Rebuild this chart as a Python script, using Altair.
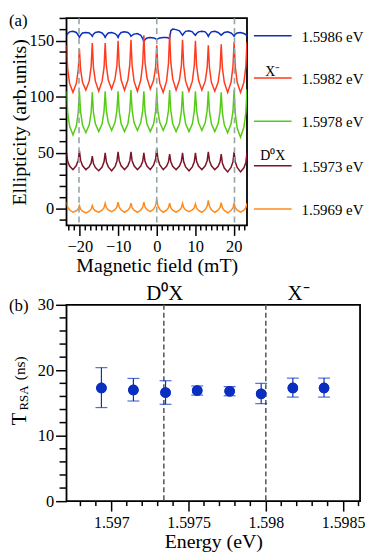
import altair as alt
import pandas as pd

FONT = "Liberation Serif"

# ---------------- panel (a): RSA traces ----------------
FIELD_MT = [
    -23.45, -23.15, -22.65, -21.775, -20.9, -20.4,
    -20.1, -19.8, -19.3, -18.425, -17.55, -17.05,
    -16.75, -16.45, -15.95, -15.075, -14.2, -13.7,
    -13.4, -13.1, -12.6, -11.725, -10.85, -10.35,
    -10.05, -9.75, -9.25, -8.375, -7.5, -7.0,
    -6.7, -6.4, -5.9, -5.025, -4.15, -3.65,
    -3.35, -3.05, -2.55, -1.675, -0.8, -0.3,
    0.0, 0.3, 0.8, 1.675, 2.55, 3.05,
    3.35, 3.65, 4.15, 5.025, 5.9, 6.4,
    6.7, 7.0, 7.5, 8.375, 9.25, 9.75,
    10.05, 10.35, 10.85, 11.725, 12.6, 13.1,
    13.4, 13.7, 14.2, 15.075, 15.95, 16.45,
    16.75, 17.05, 17.55, 18.425, 19.3, 19.8,
    20.1, 20.4, 20.9, 21.775, 22.65, 23.15,
    23.45,
]

Y_15986 = [
    155, 156.5, 158, 158.5, 157.5, 155,
    153, 155, 157, 157.5, 157, 155.5,
    154, 156, 157.5, 158, 157, 155,
    153, 155, 157, 157.5, 156.5, 155,
    153, 155.5, 157.5, 158, 157.5, 156,
    154, 155, 156, 156.5, 155, 152,
    149, 151, 152.5, 153, 152.5, 152,
    151, 152, 152.5, 153, 153, 152.5,
    152, 159, 160.5, 160, 159, 156.5,
    155, 156.5, 158.5, 159, 158, 156,
    155, 156.5, 158, 158.5, 158, 156,
    154, 156, 158, 158.5, 157.5, 156,
    155, 156, 157.5, 158, 157, 155.5,
    154, 156, 157, 157.5, 156.5, 155.5,
    154,
]

Y_15982 = [
    146, 125, 112, 104, 112, 124,
    143, 125, 113, 106, 114, 127,
    148, 126, 114, 105, 114, 126,
    148, 128, 115, 107, 116, 128,
    150, 128, 115, 106, 115, 129,
    151, 128, 114, 105, 115, 130,
    155, 131, 117, 107, 115, 126,
    146, 125, 112, 104, 114, 130,
    156, 131, 116, 106, 115, 128,
    151, 128, 114, 105, 114, 128,
    150, 128, 115, 106, 114, 126,
    146, 126, 113, 105, 113, 126,
    147, 126, 113, 104, 113, 127,
    149, 127, 113, 104, 113, 127,
    149,
]

Y_15978 = [
    105, 86, 74, 66, 74, 86,
    105, 87, 75, 68, 75, 86,
    104, 86, 76, 69, 76, 87,
    105, 88, 77, 70, 77, 88,
    105, 87, 76, 69, 76, 88,
    106, 88, 77, 70, 77, 88,
    105, 87, 76, 69, 76, 87,
    104, 87, 77, 70, 77, 88,
    106, 88, 76, 69, 76, 87,
    105, 87, 76, 69, 76, 87,
    105, 88, 77, 70, 77, 88,
    105, 87, 76, 69, 76, 87,
    104, 86, 75, 68, 76, 87,
    106, 85, 72, 64, 73, 86,
    107,
]

Y_15973 = [
    50, 42.5, 38.3, 35, 38.7, 43.5,
    52, 43.5, 38.7, 35, 37.6, 41,
    47, 40.5, 36.9, 34, 37.3, 42,
    50, 42, 37.5, 34, 37.7, 42.5,
    51, 43, 38.5, 35, 38.5, 43,
    51, 43, 38.5, 35, 38.3, 42.5,
    50, 42.5, 38.3, 35, 39.2, 44.5,
    54, 44.5, 39.2, 35, 38.1, 42,
    49, 42, 38.1, 35, 38.3, 42.5,
    50, 42, 37.5, 34, 37.5, 42,
    50, 42.5, 38.3, 35, 38.5, 43,
    51, 43, 38.5, 35, 38.1, 42,
    49, 41, 36.5, 33, 37, 42,
    51, 42, 37, 33, 36.7, 41.5,
    50,
]

Y_15969 = [
    6, 1.5, -1, -3, -1.7, 0,
    3, -0.3, -2.1, -3.5, -2.1, -0.3,
    3, 0, -1.7, -3, -1.2, 1,
    5, 1.3, -0.9, -2.5, -0.7, 1.8,
    6, 1.5, -1, -3, -1.2, 1,
    5, 1, -1.2, -3, -1, 1.5,
    6, 1.8, -0.7, -2.5, -0.1, 3,
    8.5, 2.8, -0.5, -3, -1.2, 1,
    5, 1, -1.2, -3, -1.2, 1,
    5, 1.3, -0.9, -2.5, -1, 1,
    4.5, 0.8, -1.4, -3, -0.6, 2.3,
    7.5, 2.3, -0.7, -3, -1.2, 1.3,
    5.5, 1, -1.4, -3.5, -1.5, 0.8,
    5, 1, -1.2, -3, -1.2, 1,
    5,
]

SERIES = ["1.5986 eV", "1.5982 eV", "1.5978 eV", "1.5973 eV", "1.5969 eV"]
COLORS = ["#0c2fb8", "#ff3b1e", "#55cc14", "#7b1426", "#ff8a1c"]
LABEL_LEVELS = [154.5, 116.8, 78.3, 38.4, 0.0]
PEAK_LABELS = ["X⁻", "D⁰X"]
PEAK_LABEL_LEVELS = [122.5, 47.5]
DASH_FIELDS = [-20.2, 0.0, 20.2]
XA_MAJOR = [-20, -10, 0, 10, 20]
YA_MAJOR = [0, 50, 100, 150]

# ---------------- panel (b): T_RSA vs energy ----------------
ENERGY = [1.596936, 1.597143, 1.597351, 1.597556, 1.597766, 1.597970, 1.598175, 1.598377]
T_RSA = [17.3, 17.0, 16.6, 16.9, 16.8, 16.4, 17.3, 17.3]
T_LO = [14.3, 15.3, 14.8, 16.2, 16.1, 14.9, 15.9, 15.9]
T_HI = [20.4, 18.75, 18.4, 17.6, 17.5, 18.0, 18.8, 18.8]
DASH_ENERGY = [1.59734, 1.59800]
XB_MAJOR = [1.597, 1.5975, 1.598, 1.5985]
YB_MAJOR = [0, 10, 20, 30]

# ---------------- build tables ----------------
rows = []
for name, ys in zip(SERIES, [Y_15986, Y_15982, Y_15978, Y_15973, Y_15969]):
    for x, y in zip(FIELD_MT, ys):
        rows.append({"series": name, "field": x, "ell": y})
df_a = pd.DataFrame(rows)
df_lab = pd.DataFrame({"series": SERIES, "level": LABEL_LEVELS})
df_peak = pd.DataFrame({"t": PEAK_LABELS, "level": PEAK_LABEL_LEVELS})
df_dash_a = pd.DataFrame({"field": DASH_FIELDS})
df_b = pd.DataFrame({"energy": ENERGY, "t": T_RSA, "lo": T_LO, "hi": T_HI})
df_dash_b = pd.DataFrame({"energy": DASH_ENERGY})

# minor tick positions (axis decoration)
xa_minor = pd.DataFrame({"field": [round(-20 + i * 10 / 7, 4) for i in range(-2, 31) if i % 7]})
ya_minor = pd.DataFrame({"ell": [v for v in range(-10, 171, 10) if v % 50]})
xb_minor = pd.DataFrame({"energy": [round(1.5968 + i * 0.0001, 4) for i in range(0, 19) if (i + 3) % 5]})
yb_minor = pd.DataFrame({"t": [v for v in range(0, 31, 2) if v % 10]})

W_A, H_A = 182, 209
W_B, H_B = 296, 198

color = alt.Color("series:N", scale=alt.Scale(domain=SERIES, range=COLORS), legend=None)

axis_common = dict(domain=False, tickColor="black", tickWidth=1.5, labelColor="black",
                   labelFont=FONT, titleFont=FONT, titleFontWeight="normal",
                   titleColor="black", grid=False, labelOverlap=False, labelBound=False,
                   labelFlush=False)

sx_a = alt.Scale(domain=[-23.45, 23.45], nice=False, zero=False)
sy_a = alt.Scale(domain=[-14.8, 170.2], nice=False, zero=False)
ax_xa = alt.Axis(values=XA_MAJOR, format="d", tickSize=10, labelPadding=3, labelFontSize=16.5,
                 title="Magnetic field (mT)", titleFontSize=20, titlePadding=1, **axis_common)
ax_ya = alt.Axis(values=YA_MAJOR, format="d", tickSize=11, labelPadding=2, labelFontSize=16.5,
                 title="Ellipticity (arb.units)", titleFontSize=20, titlePadding=0, **axis_common)
XA = lambda f="field:Q": alt.X(f, scale=sx_a, axis=ax_xa)
YA = lambda f="ell:Q": alt.Y(f, scale=sy_a, axis=ax_ya)

lines = alt.Chart(df_a).mark_line(strokeWidth=1.5, clip=True).encode(
    x=XA(), y=YA(), color=color, order="field:Q")
dash_a = alt.Chart(df_dash_a).mark_rule(color="#97a5a5", strokeWidth=1.6, strokeDash=[6, 4]).encode(
    x=XA())
mx_a = alt.Chart(xa_minor).mark_rule(color="black", strokeWidth=1.5).encode(
    x=XA(), y=alt.value(H_A), y2=alt.value(H_A + 5))
my_a = alt.Chart(ya_minor).mark_rule(color="black", strokeWidth=1.5).encode(
    y=YA(), x=alt.value(0), x2=alt.value(-7))
leg_lines = alt.Chart(df_lab).mark_rule(strokeWidth=1.5).encode(
    x=alt.value(189), x2=alt.value(227), y=YA("level:Q"), color=color)
leg_text = alt.Chart(df_lab).mark_text(align="left", baseline="middle", font=FONT, fontSize=15,
                                       color="black", dy=1).encode(
    x=alt.value(237), y=YA("level:Q"), text="series:N")
peak_text = alt.Chart(df_peak).mark_text(align="center", baseline="middle", font=FONT, fontSize=14,
                                         color="black").encode(
    x=alt.value(208), y=YA("level:Q"), text="t:N")
lab_a = alt.Chart(pd.DataFrame({"t": ["(a)"]})).mark_text(
    align="left", baseline="middle", font=FONT, fontSize=17, color="black").encode(
    x=alt.value(-58), y=alt.value(2.5), text="t:N")

top = alt.layer(lines, dash_a, mx_a, my_a, leg_lines, leg_text, peak_text, lab_a).properties(
    width=W_A, height=H_A)

# ---- panel b ----
sx_b = alt.Scale(domain=[1.59671, 1.59861], nice=False, zero=False)
sy_b = alt.Scale(domain=[0, 30], nice=False, zero=False)
ax_xb = alt.Axis(values=XB_MAJOR, format=".4~f", tickSize=10, labelPadding=4, labelFontSize=16,
                 title="Energy (eV)", titleFontSize=20, titlePadding=1, **axis_common)
ax_yb = alt.Axis(values=YB_MAJOR, format="d", tickSize=11, labelPadding=2, labelFontSize=16.5,
                 title=None, **axis_common)
XB = lambda f="energy:Q": alt.X(f, scale=sx_b, axis=ax_xb)
YB = lambda f="t:Q": alt.Y(f, scale=sy_b, axis=ax_yb)

BLUE = "#0a2fc0"
pts = alt.Chart(df_b).mark_circle(color=BLUE, size=115, opacity=1).encode(x=XB(), y=YB())
dash_b = alt.Chart(df_dash_b).mark_rule(color="#59615f", strokeWidth=1.6, strokeDash=[5, 3]).encode(
    x=XB())
err = alt.Chart(df_b).mark_rule(color=BLUE, strokeWidth=1.2).encode(
    x=XB(), y=YB("lo:Q"), y2="hi:Q")
cap_lo = alt.Chart(df_b).mark_tick(color=BLUE, thickness=1.2, size=12, orient="horizontal").encode(
    x=XB(), y=YB("lo:Q"))
cap_hi = alt.Chart(df_b).mark_tick(color=BLUE, thickness=1.2, size=12, orient="horizontal").encode(
    x=XB(), y=YB("hi:Q"))
mx_b = alt.Chart(xb_minor).mark_rule(color="black", strokeWidth=1.5).encode(
    x=XB(), y=alt.value(H_B), y2=alt.value(H_B + 5))
my_b = alt.Chart(yb_minor).mark_rule(color="black", strokeWidth=1.5).encode(
    y=YB(), x=alt.value(0), x2=alt.value(-7))

ytitle = alt.Chart(pd.DataFrame({"t": ["T", "RSA", "(ns)"], "px": [-47, -43, -47],
                                 "py": [115, 94, 64], "fs": [21, 13, 15.5]})).mark_text(
    angle=270, align="center", baseline="middle", font=FONT, color="black").encode(
    x=alt.X("px:Q", scale=None), y=alt.Y("py:Q", scale=None), text="t:N",
    size=alt.Size("fs:Q", scale=None, legend=None))
peak_b = alt.Chart(pd.DataFrame({"t": ["D⁰X", "X⁻"], "px": [99, 234]})).mark_text(
    align="center", baseline="middle", font=FONT, fontSize=21, color="black").encode(
    x=alt.X("px:Q", scale=None), y=alt.value(-11), text="t:N")
lab_b = alt.Chart(pd.DataFrame({"t": ["(b)"]})).mark_text(
    align="left", baseline="middle", font=FONT, fontSize=17, color="black").encode(
    x=alt.value(-58), y=alt.value(1), text="t:N")

bottom = alt.layer(pts, dash_b, err, cap_lo, cap_hi, pts, mx_b, my_b, ytitle, peak_b, lab_b).properties(
    width=W_B, height=H_B)

chart = alt.vconcat(top, bottom, spacing=80, bounds="flush").properties(padding=0).configure_view(
    stroke="black", strokeWidth=1.8).configure_concat(spacing=80)

chart.save("out.html", embed_options={"renderer": "svg", "actions": False})
